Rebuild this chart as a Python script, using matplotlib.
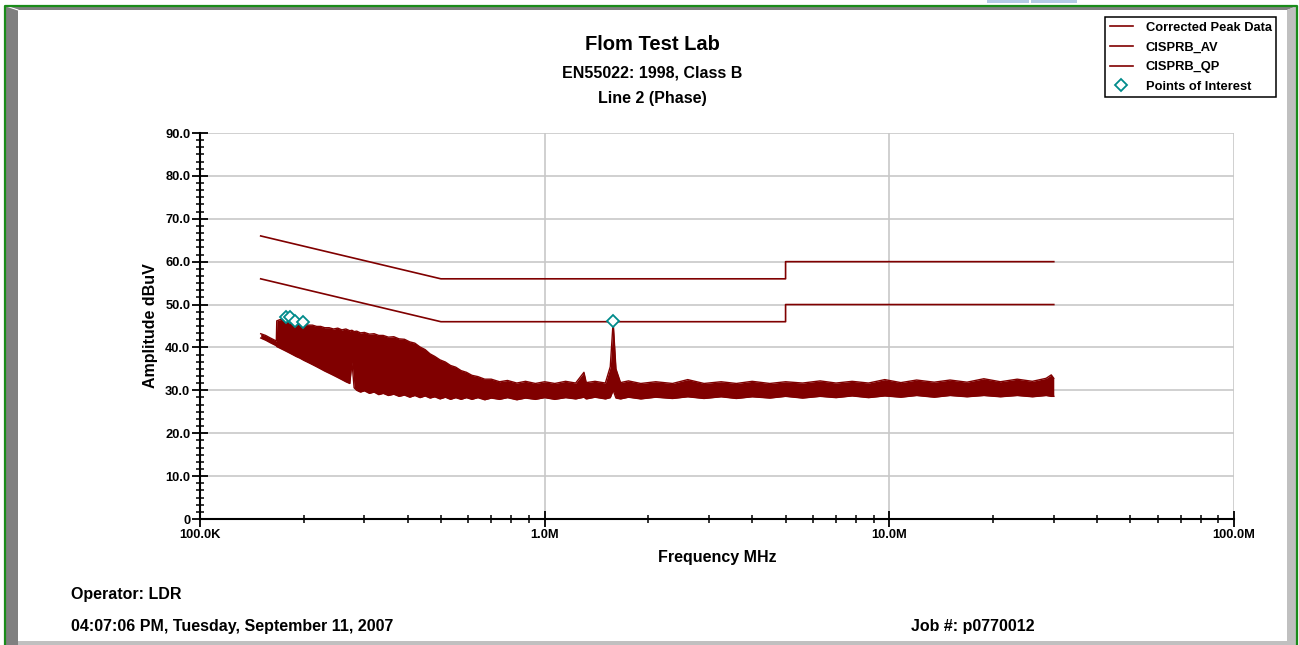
import matplotlib
matplotlib.use('Agg')
import matplotlib.pyplot as plt
from matplotlib.ticker import FixedLocator, FixedFormatter, MultipleLocator, LogLocator, NullFormatter
from matplotlib.patches import Polygon, Rectangle
import numpy as np

plt.rcParams['font.family'] = ['Liberation Sans', 'DejaVu Sans']
plt.rcParams['font.weight'] = 'bold'

# data (frequency in MHz, level in dBuV)
freq_mhz = [0.150, 0.155, 0.160, 0.1665, 0.1670, 0.171, 0.175, 0.178, 0.182, 0.186,
            0.190, 0.195, 0.200, 0.206, 0.212, 0.218, 0.224, 0.230, 0.237, 0.244,
            0.251, 0.258, 0.265, 0.272, 0.276, 0.280, 0.285, 0.292, 0.300, 0.310,
            0.320, 0.330, 0.340, 0.352, 0.365, 0.378, 0.392, 0.406, 0.420, 0.435,
            0.450, 0.465, 0.480, 0.497, 0.515, 0.533, 0.552, 0.572, 0.593, 0.615,
            0.640, 0.670, 0.700, 0.740, 0.780, 0.830, 0.880, 0.940, 1.00, 1.07,
            1.15, 1.23, 1.30, 1.32, 1.40, 1.50, 1.55, 1.58, 1.61, 1.66,
            1.75, 1.90, 2.10, 2.35, 2.60, 2.90, 3.25, 3.60, 4.00, 4.50,
            5.00, 5.60, 6.30, 7.00, 7.80, 8.70, 9.70, 10.8, 12.0, 13.5,
            15.0, 16.8, 18.8, 21.0, 23.5, 26.0, 28.5, 29.5, 30.0]
peak_hi = [43.2, 42.8, 42.2, 41.5, 46.2, 46.5, 46.8, 46.5, 46.4, 46.0,
           45.9, 45.6, 45.5, 45.2, 45.2, 44.9, 44.9, 44.6, 44.6, 44.3,
           44.5, 44.1, 44.3, 43.9, 44.0, 43.7, 43.8, 43.4, 43.5, 43.1,
           43.2, 42.8, 42.8, 42.4, 42.5, 42.0, 41.9, 41.3, 41.0, 40.1,
           39.5, 38.5, 37.9, 37.1, 36.6, 35.8, 35.4, 34.6, 34.2, 33.5,
           33.2, 32.6, 32.6, 32.0, 32.3, 31.7, 32.1, 31.6, 32.0, 31.6,
           32.1, 31.7, 34.2, 31.8, 32.1, 31.7, 35.5, 46.0, 35.0, 31.8,
           32.2, 31.6, 32.0, 31.6, 32.5, 31.6, 32.0, 31.6, 32.1, 31.6,
           32.0, 31.7, 32.2, 31.7, 32.1, 31.7, 32.5, 31.8, 32.4, 31.9,
           32.4, 31.9, 32.7, 32.0, 32.6, 32.1, 32.8, 33.6, 32.8]
peak_lo = [42.2, 41.7, 41.1, 40.4, 40.2, 39.8, 39.4, 39.1, 38.7, 38.3,
           37.9, 37.5, 37.0, 36.5, 36.0, 35.5, 35.0, 34.5, 34.0, 33.5,
           33.0, 32.5, 32.0, 31.6, 36.6, 30.6, 30.0, 29.6, 29.9, 29.3,
           29.6, 29.0, 29.3, 28.8, 29.1, 28.6, 28.9, 28.4, 28.8, 28.3,
           28.7, 28.2, 28.5, 28.0, 28.4, 27.9, 28.3, 27.9, 28.3, 27.9,
           28.3, 27.8, 28.2, 27.9, 28.3, 27.8, 28.2, 27.9, 28.3, 27.9,
           28.3, 28.0, 28.4, 28.0, 28.4, 28.0, 28.3, 30.0, 28.2, 28.0,
           28.4, 28.0, 28.4, 28.1, 28.5, 28.1, 28.5, 28.1, 28.5, 28.2,
           28.6, 28.2, 28.6, 28.3, 28.7, 28.3, 28.7, 28.4, 28.8, 28.4,
           28.8, 28.5, 28.8, 28.5, 28.8, 28.5, 28.8, 28.6, 28.6]

lim_freq = [0.15, 0.5, 5.0, 5.0, 30.0]
av_limit = [56, 46, 46, 50, 50]
qp_limit = [66, 56, 56, 60, 60]

poi_freq = [0.178, 0.182, 0.189, 0.199, 1.579]
poi_level = [47.2, 47.0, 46.1, 46.0, 46.1]

xticks = [0.1, 1.0, 10.0, 100.0]
xlabels = ['100.0K', '1.0M', '10.0M', '100.0M']
yticks = [0, 10, 20, 30, 40, 50, 60, 70, 80, 90]
ylabels = ['0', '10.0', '20.0', '30.0', '40.0', '50.0', '60.0', '70.0', '80.0', '90.0']

W, H = 1299, 645
red = '#800000'
fig = plt.figure(figsize=(W / 100, H / 100), dpi=100, facecolor='white')

# frame around the report
bg = fig.add_axes([0, 0, 1, 1], zorder=-1)
bg.set_xlim(0, W)
bg.set_ylim(H, 0)
bg.axis('off')
bg.add_patch(Rectangle((987, 0), 42, 3, color='#b4cbe6', lw=0))
bg.add_patch(Rectangle((1031, 0), 46, 3, color='#b4cbe6', lw=0))
bg.add_patch(Polygon([(6, 6), (18, 10), (18, 645), (6, 645)], color='#808080', lw=0))
bg.add_patch(Polygon([(6, 6), (1297, 6), (1287, 10), (18, 10)], color='#808080', lw=0))
bg.add_patch(Polygon([(1297, 6), (1297, 645), (1287, 645), (1287, 10)], color='#c0c0c0', lw=0))
bg.add_patch(Polygon([(18, 641), (1287, 641), (1297, 645), (18, 645)], color='#c0c0c0', lw=0))
bg.plot([6, 18], [6, 10], color='white', lw=0.8)
bg.plot([5.5, 5.5, 1297.5, 1297.5], [645, 5.5, 5.5, 645], color='#1a8c1a', lw=1.6)

ax = fig.add_axes([200 / W, 1 - 519 / H, 1034 / W, 386 / H])

ax.fill_between(freq_mhz, peak_lo, peak_hi, color=red, lw=0)
ax.plot(freq_mhz, peak_hi, color=red, lw=1.0, label='Corrected Peak Data')
ax.plot(freq_mhz, peak_lo, color=red, lw=1.0)
ax.plot(lim_freq, av_limit, color=red, lw=1.2, label='CISPRB_AV')
ax.plot(lim_freq, qp_limit, color=red, lw=1.2, label='CISPRB_QP')
ax.plot(poi_freq, poi_level, ls='none', marker='D', ms=6.5, mfc='white',
        mec='#008b8b', mew=1.3, label='Points of Interest', zorder=5)

ax.set_xscale('log')
ax.set_xlim(0.1, 100)
ax.set_ylim(0, 90)
ax.xaxis.set_major_locator(FixedLocator(xticks))
ax.xaxis.set_major_formatter(FixedFormatter(xlabels))
ax.xaxis.set_minor_locator(LogLocator(base=10, subs=np.arange(2, 10)))
ax.xaxis.set_minor_formatter(NullFormatter())
ax.yaxis.set_major_locator(FixedLocator(yticks))
ax.yaxis.set_major_formatter(FixedFormatter(ylabels))
ax.yaxis.set_minor_locator(MultipleLocator(10 / 6))

ax.grid(True, which='major', color='#c8c8c8', lw=1.2)
ax.set_axisbelow(True)
for s in ['top', 'right']:
    ax.spines[s].set_visible(False)
for s in ['left', 'bottom']:
    ax.spines[s].set_linewidth(1.5)
ax.tick_params(which='major', direction='inout', length=11, width=1.3, labelsize=9.3, pad=1.5)
ax.tick_params(which='minor', direction='inout', length=6, width=1.1)
for t in ax.get_xticklabels() + ax.get_yticklabels():
    t.set_fontweight('bold')

ax.set_xlabel('Frequency MHz', fontsize=11.5, fontweight='bold', labelpad=7)
ax.set_ylabel('Amplitude dBuV', fontsize=11.5, fontweight='bold', labelpad=5)

fig.text(652 / W, 1 - 44 / H, 'Flom Test Lab', ha='center', va='center', fontsize=14.5, fontweight='bold')
fig.text(652 / W, 1 - 73 / H, 'EN55022: 1998, Class B', ha='center', va='center', fontsize=11.5, fontweight='bold')
fig.text(652 / W, 1 - 98 / H, 'Line 2 (Phase)', ha='center', va='center', fontsize=11.5, fontweight='bold')
fig.text(71 / W, 1 - 595 / H, 'Operator: LDR', ha='left', va='center', fontsize=11.5, fontweight='bold')
fig.text(71 / W, 1 - 627 / H, '04:07:06 PM, Tuesday, September 11, 2007', ha='left', va='center',
         fontsize=11.5, fontweight='bold')
fig.text(911 / W, 1 - 627 / H, 'Job #: p0770012', ha='left', va='center', fontsize=11.5, fontweight='bold')

leg = ax.legend(loc='upper left', bbox_to_anchor=(1105 / W, 1 - 17 / H), bbox_transform=fig.transFigure,
                prop={'weight': 'bold', 'size': 9.3}, fancybox=False, edgecolor='black', framealpha=1,
                borderpad=0.35, labelspacing=0.6, handlelength=1.8, handletextpad=1.0, borderaxespad=0)
leg.get_frame().set_linewidth(1.1)
for ln in leg.get_lines():
    ln.set_linewidth(1.2)

fig.savefig('out.png', dpi=100, facecolor='white')
